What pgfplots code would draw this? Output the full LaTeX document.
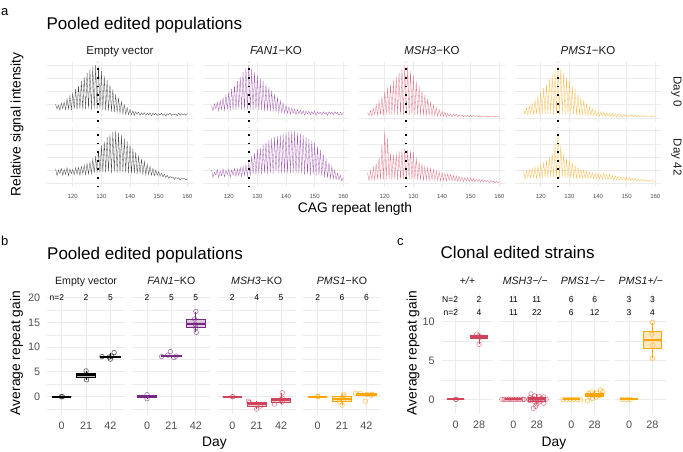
\documentclass[border=0pt]{standalone}
\usepackage{pgfplots}
\pgfplotsset{compat=1.18}
\usepgfplotslibrary{statistics}
\usepackage{fontspec}
\setmainfont{Liberation Sans}
\definecolor{gridc}{HTML}{EBEBEB}
\definecolor{tickc}{HTML}{4D4D4D}
\definecolor{stripc}{HTML}{1A1A1A}
\definecolor{evc}{HTML}{000000}
\definecolor{fanc}{HTML}{762A83}
\definecolor{mshc}{HTML}{D1435B}
\definecolor{pmsc}{HTML}{FFA500}
\definecolor{evtr}{HTML}{222222}
\definecolor{fantr}{HTML}{8E3B9E}
\definecolor{mshtr}{HTML}{D65A70}
\definecolor{pmstr}{HTML}{F9AE2A}
\newcommand{\fs}[1]{\fontsize{#1}{#1}\selectfont}
\pgfplotsset{
  base/.style={scale only axis, anchor=south west, axis line style={draw=none}, tick style={draw=none},
    major tick length=0pt, minor tick length=0pt, grid=both,
    major grid style={draw=gridc, line width=0.9pt}, minor grid style={draw=gridc, line width=0.5pt},
    clip=false, /pgf/number format/assume math mode=true,
    ticklabel style={font=\fs{10.8pt}, text=tickc}},
  pa/.style={base, width=146pt, height=60.2pt, xmin=111, xmax=162, ymin=-0.07, ymax=1.07,
    xtick={120,130,140,150,160}, ytick={0,0.25,0.5,0.75,1}, yticklabels={}, xticklabels={}},
  pabot/.style={pa, xticklabels={120,130,140,150,160}, xticklabel style={font=\fs{6pt}, yshift=-2.9pt}},
  pb/.style={base, width=78pt, height=121.8pt, xmin=-0.6, xmax=2.6, ymin=-3.5, ymax=21.1,
    xtick={0,1,2}, xticklabels={0,21,42}, ytick={0,5,10,15,20}, minor ytick={-2.5,2.5,7.5,12.5,17.5},
    yticklabels={}, xticklabel style={yshift=-4.2pt}, yticklabel style={xshift=-3.5pt}},
  pc/.style={base, width=51.3pt, height=120.3pt, xmin=-0.6, xmax=1.6, ymin=-1.8, ymax=13.7,
    xtick={0,1}, xticklabels={0,28}, ytick={0,5,10}, minor ytick={2.5,7.5},
    yticklabels={}, xticklabel style={yshift=-4.2pt}, yticklabel style={xshift=-3.5pt}},
  tr/.style={line width=0.3pt, draw opacity=0.85},
  dl/.style={black, line width=1.8pt, dash pattern=on 1.8pt off 6.8pt},
  bx/.style={line width=0.8pt, fill opacity=0.25, boxplot/draw direction=y, boxplot/whisker extend=0, boxplot/box extend=0.8,
    boxplot/every median/.style={line width=1.8pt}},
  bxc/.style={bx, boxplot/box extend=0.75},
  pt/.style={only marks, mark=o, mark size=2.3pt, mark options={line width=0.6pt, draw opacity=0.65}},
}
\begin{document}
\begin{tikzpicture}
\useasboundingbox (0pt,0pt) rectangle (683pt,-451pt);
% ---------------- panel a ----------------
\begin{axis}[pa, at={(47pt,-121.7pt)}]
\addplot[tr, evtr] coordinates {(114,.26)(114.5,.17)(115,.24)(115.5,.15)(116,.28)(116.5,.18)(117,.30)(117.5,.16)(118,.36)(118.5,.17)(119,.42)(119.5,.15)(120,.48)(120.5,.17)(121,.55)(121.5,.16)(122,.62)(122.5,.18)(123,.70)(123.5,.16)(124,.78)(124.5,.17)(125,.86)(125.5,.18)(126,.92)(126.5,.16)(127,.97)(127.5,.18)(128,1)(128.5,.17)(129,.98)(129.5,.16)(130,.89)(130.5,.15)(131,.80)(131.5,.14)(132,.72)(132.5,.13)(133,.63)(133.5,.12)(134,.54)(134.5,.11)(135,.45)(135.5,.10)(136,.38)(136.5,.09)(137,.31)(137.5,.08)(138,.25)(138.5,.07)(139,.20)(139.5,.06)(140,.16)(140.5,.06)(141,.14)(141.5,.05)(142,.12)(142.5,.07)(143,.11)(143.5,.05)(144,.10)(144.5,.06)(145,.10)(145.5,.05)(146,.09)(146.5,.06)(147,.10)(147.5,.04)(148,.09)(148.5,.06)(149,.09)(149.5,.05)(150,.08)(150.5,.06)(151,.09)(151.5,.05)(152,.08)(152.5,.04)(153,.08)(153.5,.06)(154,.09)(154.5,.05)(155,.08)(155.5,.06)(156,.08)(156.5,.04)(157,.09)(157.5,.05)(158,.08)(158.5,.06)(159,.08)(159.5,.05)(160,.09)};
\addplot[dl] coordinates {(128.7,-0.07)(128.7,1.07)};
\end{axis}
\begin{axis}[pa, at={(203pt,-121.7pt)}]
\addplot[tr, fantr] coordinates {(114,.24)(114.5,.14)(115,.27)(115.5,.17)(116,.30)(116.5,.13)(117,.33)(117.5,.16)(118,.38)(118.5,.15)(119,.43)(119.5,.17)(120,.49)(120.5,.14)(121,.55)(121.5,.16)(122,.62)(122.5,.15)(123,.70)(123.5,.17)(124,.78)(124.5,.16)(125,.87)(125.5,.15)(126,.95)(126.5,.17)(127,1)(127.5,.16)(128,.93)(128.5,.15)(129,.87)(129.5,.16)(130,.80)(130.5,.14)(131,.75)(131.5,.15)(132,.70)(132.5,.13)(133,.64)(133.5,.14)(134,.58)(134.5,.12)(135,.52)(135.5,.12)(136,.45)(136.5,.11)(137,.39)(137.5,.10)(138,.33)(138.5,.10)(139,.28)(139.5,.09)(140,.24)(140.5,.09)(141,.21)(141.5,.07)(142,.19)(142.5,.09)(143,.17)(143.5,.06)(144,.16)(144.5,.08)(145,.15)(145.5,.07)(146,.14)(146.5,.05)(147,.13)(147.5,.08)(148,.13)(148.5,.06)(149,.12)(149.5,.07)(150,.13)(150.5,.05)(151,.12)(151.5,.08)(152,.11)(152.5,.06)(153,.12)(153.5,.07)(154,.11)(154.5,.05)(155,.12)(155.5,.07)(156,.11)(156.5,.06)(157,.12)(157.5,.08)(158,.11)(158.5,.05)(159,.11)(159.5,.06)(160,.11)};
\addplot[dl] coordinates {(127,-0.07)(127,1.07)};
\end{axis}
\begin{axis}[pa, at={(359pt,-121.7pt)}]
\addplot[tr, mshtr] coordinates {(114,.10)(114.5,.05)(115,.14)(115.5,.04)(116,.19)(116.5,.06)(117,.25)(117.5,.05)(118,.32)(118.5,.06)(119,.40)(119.5,.05)(120,.50)(120.5,.06)(121,.57)(121.5,.05)(122,.64)(122.5,.06)(123,.71)(123.5,.05)(124,.78)(124.5,.06)(125,.86)(125.5,.06)(126,.94)(126.5,.05)(127,1)(127.5,.06)(128,.98)(128.5,.05)(129,.89)(129.5,.06)(130,.80)(130.5,.05)(131,.70)(131.5,.06)(132,.61)(132.5,.05)(133,.52)(133.5,.05)(134,.44)(134.5,.04)(135,.37)(135.5,.05)(136,.30)(136.5,.04)(137,.25)(137.5,.04)(138,.20)(138.5,.03)(139,.16)(139.5,.04)(140,.13)(140.5,.03)(141,.11)(141.5,.02)(142,.09)(142.5,.03)(143,.08)(143.5,.02)(144,.07)(144.5,.03)(145,.07)(145.5,.02)(146,.06)(146.5,.03)(147,.06)(147.5,.02)(148,.05)(148.5,.03)(149,.05)(149.5,.02)(150,.05)(150.5,.02)(151,.05)(151.5,.03)(152,.04)(152.5,.02)(153,.04)(153.5,.02)(154,.04)(154.5,.03)(155,.04)(155.5,.02)(156,.04)(156.5,.02)(157,.04)(157.5,.03)(158,.03)(158.5,.02)(159,.04)(159.5,.02)(160,.03)};
\addplot[dl] coordinates {(127.5,-0.07)(127.5,1.07)};
\end{axis}
\begin{axis}[pa, at={(515pt,-121.7pt)}]
\addplot[tr, pmstr] coordinates {(114,.16)(114.5,.07)(115,.19)(115.5,.06)(116,.23)(116.5,.08)(117,.28)(117.5,.07)(118,.34)(118.5,.08)(119,.41)(119.5,.07)(120,.49)(120.5,.08)(121,.57)(121.5,.07)(122,.65)(122.5,.08)(123,.73)(123.5,.08)(124,.82)(124.5,.07)(125,.91)(125.5,.08)(126,1)(126.5,.07)(127,.93)(127.5,.08)(128,.85)(128.5,.07)(129,.77)(129.5,.07)(130,.70)(130.5,.06)(131,.62)(131.5,.07)(132,.54)(132.5,.06)(133,.46)(133.5,.06)(134,.39)(134.5,.05)(135,.33)(135.5,.05)(136,.27)(136.5,.04)(137,.22)(137.5,.05)(138,.18)(138.5,.04)(139,.15)(139.5,.04)(140,.13)(140.5,.03)(141,.12)(141.5,.04)(142,.11)(142.5,.03)(143,.10)(143.5,.04)(144,.09)(144.5,.03)(145,.09)(145.5,.03)(146,.08)(146.5,.02)(147,.08)(147.5,.03)(148,.07)(148.5,.02)(149,.07)(149.5,.03)(150,.06)(150.5,.02)(151,.06)(151.5,.03)(152,.06)(152.5,.02)(153,.05)(153.5,.02)(154,.05)(154.5,.03)(155,.05)(155.5,.02)(156,.05)(156.5,.02)(157,.04)(157.5,.03)(158,.04)(158.5,.02)(159,.04)(159.5,.02)(160,.04)};
\addplot[dl] coordinates {(126,-0.07)(126,1.07)};
\end{axis}
% bottom row
\begin{axis}[pabot, at={(47pt,-187.4pt)}]
\addplot[tr, evtr] coordinates {(114,.28)(114.5,.15)(115,.26)(115.5,.19)(116,.29)(116.5,.16)(117,.27)(117.5,.18)(118,.30)(118.5,.15)(119,.28)(119.5,.19)(120,.27)(120.5,.17)(121,.30)(121.5,.18)(122,.31)(122.5,.16)(123,.33)(123.5,.19)(124,.35)(124.5,.17)(125,.38)(125.5,.18)(126,.41)(126.5,.19)(127,.46)(127.5,.20)(128,.52)(128.5,.21)(129,.62)(129.5,.20)(130,.72)(130.5,.22)(131,.80)(131.5,.21)(132,.88)(132.5,.22)(133,.94)(133.5,.20)(134,.98)(134.5,.22)(135,1)(135.5,.21)(136,.97)(136.5,.20)(137,.92)(137.5,.22)(138,.86)(138.5,.21)(139,.80)(139.5,.20)(140,.74)(140.5,.19)(141,.67)(141.5,.20)(142,.60)(142.5,.18)(143,.53)(143.5,.19)(144,.47)(144.5,.18)(145,.42)(145.5,.17)(146,.37)(146.5,.17)(147,.33)(147.5,.16)(148,.29)(148.5,.15)(149,.26)(149.5,.16)(150,.23)(150.5,.14)(151,.20)(151.5,.13)(152,.18)(152.5,.12)(153,.16)(153.5,.10)(154,.14)(154.5,.11)(155,.13)(155.5,.08)(156,.12)(156.5,.10)(157,.11)(157.5,.07)(158,.10)(158.5,.09)(159,.10)(159.5,.07)(160,.09)};
\addplot[dl] coordinates {(128.7,-0.07)(128.7,1.07)};
\end{axis}
\begin{axis}[pabot, at={(203pt,-187.4pt)}]
\addplot[tr, fantr] coordinates {(114,.26)(114.5,.12)(115,.22)(115.5,.16)(116,.27)(116.5,.11)(117,.24)(117.5,.15)(118,.28)(118.5,.13)(119,.25)(119.5,.17)(120,.27)(120.5,.12)(121,.26)(121.5,.16)(122,.29)(122.5,.14)(123,.28)(123.5,.15)(124,.31)(124.5,.13)(125,.33)(125.5,.16)(126,.36)(126.5,.14)(127,.39)(127.5,.15)(128,.52)(128.5,.18)(129,.58)(129.5,.17)(130,.65)(130.5,.19)(131,.69)(131.5,.18)(132,.74)(132.5,.20)(133,.79)(133.5,.19)(134,.83)(134.5,.20)(135,.86)(135.5,.19)(136,.88)(136.5,.21)(137,.90)(137.5,.20)(138,.92)(138.5,.19)(139,.95)(139.5,.21)(140,.97)(140.5,.20)(141,.99)(141.5,.19)(142,1)(142.5,.20)(143,.99)(143.5,.18)(144,.97)(144.5,.19)(145,.95)(145.5,.18)(146,.92)(146.5,.17)(147,.89)(147.5,.18)(148,.85)(148.5,.16)(149,.81)(149.5,.17)(150,.77)(150.5,.15)(151,.71)(151.5,.16)(152,.64)(152.5,.14)(153,.56)(153.5,.12)(154,.48)(154.5,.11)(155,.40)(155.5,.10)(156,.33)(156.5,.09)(157,.26)(157.5,.08)(158,.20)(158.5,.07)(159,.16)(159.5,.05)(160,.12)};
\addplot[dl] coordinates {(127,-0.07)(127,1.07)};
\end{axis}
\begin{axis}[pabot, at={(359pt,-187.4pt)}]
\addplot[tr, mshtr] coordinates {(114,.20)(114.5,.06)(115,.25)(115.5,.07)(116,.31)(116.5,.06)(117,.38)(117.5,.08)(118,.50)(118.5,.07)(119,.74)(119.5,.08)(120,1)(120.5,.07)(121,.86)(121.5,.08)(122,.58)(122.5,.07)(123,.55)(123.5,.08)(124,.58)(124.5,.07)(125,.61)(125.5,.08)(126,.64)(126.5,.08)(127,.66)(127.5,.07)(128,.64)(128.5,.08)(129,.63)(129.5,.07)(130,.60)(130.5,.08)(131,.50)(131.5,.07)(132,.41)(132.5,.07)(133,.38)(133.5,.06)(134,.34)(134.5,.07)(135,.31)(135.5,.06)(136,.29)(136.5,.07)(137,.27)(137.5,.06)(138,.25)(138.5,.06)(139,.23)(139.5,.05)(140,.21)(140.5,.06)(141,.20)(141.5,.05)(142,.19)(142.5,.06)(143,.18)(143.5,.05)(144,.16)(144.5,.05)(145,.15)(145.5,.04)(146,.14)(146.5,.05)(147,.13)(147.5,.04)(148,.12)(148.5,.05)(149,.12)(149.5,.04)(150,.11)(150.5,.04)(151,.10)(151.5,.03)(152,.09)(152.5,.04)(153,.08)(153.5,.03)(154,.08)(154.5,.03)(155,.07)(155.5,.03)(156,.06)(156.5,.02)(157,.06)(157.5,.03)(158,.05)(158.5,.02)(159,.05)(159.5,.02)(160,.04)};
\addplot[dl] coordinates {(127.5,-0.07)(127.5,1.07)};
\end{axis}
\begin{axis}[pabot, at={(515pt,-187.4pt)}]
\addplot[tr, pmstr] coordinates {(114,.24)(114.5,.09)(115,.25)(115.5,.11)(116,.27)(116.5,.10)(117,.29)(117.5,.12)(118,.31)(118.5,.10)(119,.33)(119.5,.12)(120,.36)(120.5,.11)(121,.40)(121.5,.12)(122,.44)(122.5,.11)(123,.50)(123.5,.12)(124,.58)(124.5,.13)(125,.75)(125.5,.12)(126,1)(126.5,.11)(127,.72)(127.5,.12)(128,.55)(128.5,.10)(129,.48)(129.5,.11)(130,.43)(130.5,.10)(131,.40)(131.5,.11)(132,.35)(132.5,.10)(133,.31)(133.5,.11)(134,.28)(134.5,.10)(135,.26)(135.5,.10)(136,.24)(136.5,.09)(137,.22)(137.5,.10)(138,.21)(138.5,.09)(139,.20)(139.5,.10)(140,.19)(140.5,.09)(141,.18)(141.5,.08)(142,.20)(142.5,.09)(143,.17)(143.5,.08)(144,.18)(144.5,.08)(145,.16)(145.5,.07)(146,.15)(146.5,.08)(147,.14)(147.5,.07)(148,.13)(148.5,.07)(149,.12)(149.5,.06)(150,.12)(150.5,.07)(151,.11)(151.5,.06)(152,.10)(152.5,.06)(153,.10)(153.5,.05)(154,.09)(154.5,.06)(155,.08)(155.5,.05)(156,.08)(156.5,.05)(157,.07)(157.5,.04)(158,.07)(158.5,.05)(159,.06)(159.5,.04)(160,.05)};
\addplot[dl] coordinates {(126,-0.07)(126,1.07)};
\end{axis}
% panel a texts
\node[anchor=base west, inner sep=0, font=\fs{13pt}] at (1pt,-15pt) {a};
\node[anchor=base west, inner sep=0, font=\fs{17pt}] at (46.4pt,-29.3pt) {Pooled edited populations};
\node[anchor=base, inner sep=0, font=\fs{11.5pt}, text=stripc] at (120pt,-54.7pt) {Empty vector};
\node[anchor=base, inner sep=0, font=\fs{11.5pt}, text=stripc] at (276pt,-54.7pt) {\textit{FAN1}−KO};
\node[anchor=base, inner sep=0, font=\fs{11.5pt}, text=stripc] at (432pt,-54.7pt) {\textit{MSH3}−KO};
\node[anchor=base, inner sep=0, font=\fs{11.5pt}, text=stripc] at (588pt,-54.7pt) {\textit{PMS1}−KO};
\node[rotate=-90, anchor=base, inner sep=0, font=\fs{11.5pt}, text=stripc] at (673.5pt,-91.7pt) {Day 0};
\node[rotate=-90, anchor=base, inner sep=0, font=\fs{11.5pt}, text=stripc] at (673.5pt,-157.2pt) {Day 42};
\node[anchor=base, inner sep=0, font=\fs{13.8pt}] at (355pt,-212.7pt) {CAG repeat length};
\node[rotate=90, anchor=base, inner sep=0, font=\fs{13.8pt}] at (20.5pt,-124.5pt) {Relative signal intensity};
% ---------------- panel b ----------------
\begin{axis}[pb, at={(47.1pt,-414pt)}, yticklabels={0,5,10,15,20}]
\addplot[bx, draw=evc, fill=evc, boxplot prepared={draw position=0, lower whisker=0, lower quartile=0, median=0, upper quartile=0, upper whisker=0}] coordinates {};
\addplot[bx, draw=evc, fill=evc, boxplot prepared={draw position=1, lower whisker=3.4, lower quartile=3.85, median=4.3, upper quartile=4.75, upper whisker=5.2}] coordinates {};
\addplot[bx, draw=evc, fill=evc, boxplot prepared={draw position=2, lower whisker=7.6, lower quartile=8.0, median=8.1, upper quartile=8.2, upper whisker=8.9}] coordinates {};
\addplot[pt, evc] coordinates {(-0.02,0)(0.03,0)(1.0,5.2)(1.02,3.4)(1.65,8.1)(2.0,7.6)(2.05,8.2)(2.15,8.9)(1.95,8.0)};
\node[font=\fs{8.5pt}] at (axis cs:0,20) {\llap{n=}2};
\node[font=\fs{8.5pt}] at (axis cs:1,20) {2};
\node[font=\fs{8.5pt}] at (axis cs:2,20) {5};
\end{axis}
\begin{axis}[pb, at={(132.4pt,-414pt)}]
\addplot[bx, draw=fanc, fill=fanc, boxplot prepared={draw position=0, lower whisker=-0.4, lower quartile=-0.2, median=0, upper quartile=0.2, upper whisker=0.4}] coordinates {};
\addplot[bx, draw=fanc, fill=fanc, boxplot prepared={draw position=1, lower whisker=7.9, lower quartile=8.1, median=8.2, upper quartile=8.4, upper whisker=8.4}] coordinates {};
\addplot[bx, draw=fanc, fill=fanc, boxplot prepared={draw position=2, lower whisker=13.0, lower quartile=13.9, median=14.6, upper quartile=15.7, upper whisker=17.2}] coordinates {};
\addplot[pt, fanc] coordinates {(0,0.4)(0,-0.4)(0.6,8.1)(0.96,9.1)(0.85,8.4)(1.1,7.9)(1.2,8.2)(2.0,17.2)(1.95,15.7)(1.98,14.6)(2.0,13.9)(2.02,13.0)};
\node[font=\fs{8.5pt}] at (axis cs:0,20) {2};
\node[font=\fs{8.5pt}] at (axis cs:1,20) {5};
\node[font=\fs{8.5pt}] at (axis cs:2,20) {5};
\end{axis}
\begin{axis}[pb, at={(217.7pt,-414pt)}]
\addplot[bx, draw=mshc, fill=mshc, boxplot prepared={draw position=0, lower whisker=0, lower quartile=0, median=0, upper quartile=0, upper whisker=0}] coordinates {};
\addplot[bx, draw=mshc, fill=mshc, boxplot prepared={draw position=1, lower whisker=-2.5, lower quartile=-2.05, median=-1.55, upper quartile=-1.13, upper whisker=-0.9}] coordinates {};
\addplot[bx, draw=mshc, fill=mshc, boxplot prepared={draw position=2, lower whisker=-1.5, lower quartile=-1.1, median=-0.6, upper quartile=-0.3, upper whisker=0.8}] coordinates {};
\addplot[pt, mshc] coordinates {(0,0)(0.02,0)(0.66,-0.9)(0.7,-1.2)(1.0,-2.5)(1.15,-1.9)(2.05,0.8)(2.05,-0.3)(2.0,-0.6)(2.05,-1.1)(1.73,-1.5)};
\node[font=\fs{8.5pt}] at (axis cs:0,20) {2};
\node[font=\fs{8.5pt}] at (axis cs:1,20) {4};
\node[font=\fs{8.5pt}] at (axis cs:2,20) {5};
\end{axis}
\begin{axis}[pb, at={(303pt,-414pt)}]
\addplot[bx, draw=pmsc, fill=pmsc, boxplot prepared={draw position=0, lower whisker=0, lower quartile=0, median=0, upper quartile=0, upper whisker=0}] coordinates {};
\addplot[bx, draw=pmsc, fill=pmsc, boxplot prepared={draw position=1, lower whisker=-1.7, lower quartile=-1.0, median=-0.45, upper quartile=0.0, upper whisker=0.5}] coordinates {};
\addplot[bx, draw=pmsc, fill=pmsc, boxplot prepared={draw position=2, lower whisker=0.3, lower quartile=0.35, median=0.5, upper quartile=0.65, upper whisker=0.7}] coordinates {};
\addplot[pt, pmsc] coordinates {(0,0.1)(0.02,0)(1.07,0.5)(1.05,0.1)(0.95,-0.3)(0.9,-1.0)(1.0,-1.7)(1.05,-0.6)(1.55,0.7)(1.75,0.7)(2.03,0.45)(2.23,0.5)(1.96,-0.9)(2.2,0.3)};
\node[font=\fs{8.5pt}] at (axis cs:0,20) {2};
\node[font=\fs{8.5pt}] at (axis cs:1,20) {6};
\node[font=\fs{8.5pt}] at (axis cs:2,20) {6};
\end{axis}
\node[anchor=base west, inner sep=0, font=\fs{13pt}] at (1pt,-245pt) {b};
\node[anchor=base west, inner sep=0, font=\fs{17pt}] at (47pt,-259.3pt) {Pooled edited populations};
\node[anchor=base, inner sep=0, font=\fs{10.6pt}, text=stripc] at (86.1pt,-284.5pt) {Empty vector};
\node[anchor=base, inner sep=0, font=\fs{10.6pt}, text=stripc] at (171.4pt,-284.5pt) {\textit{FAN1}−KO};
\node[anchor=base, inner sep=0, font=\fs{10.6pt}, text=stripc] at (256.7pt,-284.5pt) {\textit{MSH3}−KO};
\node[anchor=base, inner sep=0, font=\fs{10.6pt}, text=stripc] at (342pt,-284.5pt) {\textit{PMS1}−KO};
\node[rotate=90, anchor=base, inner sep=0, font=\fs{13.8pt}] at (20pt,-353pt) {Average repeat gain};
\node[anchor=base, inner sep=0, font=\fs{13.8pt}] at (214.4pt,-446.5pt) {Day};
% ---------------- panel c ----------------
\begin{axis}[pc, at={(441.7pt,-413.3pt)}, yticklabels={0,5,10}]
\addplot[bxc, draw=mshc, fill=mshc, boxplot prepared={draw position=0, lower whisker=0, lower quartile=0, median=0, upper quartile=0, upper whisker=0}] coordinates {};
\addplot[bxc, draw=mshc, fill=mshc, boxplot prepared={draw position=1, lower whisker=7.1, lower quartile=7.8, median=8.05, upper quartile=8.25, upper whisker=8.4}] coordinates {};
\addplot[pt, mshc] coordinates {(0,0)(0.03,0)(0.9,8.4)(1.0,8.2)(1.05,8.0)(1.0,7.1)};
\node[font=\fs{8.5pt}] at (axis cs:0,12.9) {\llap{N=}2};
\node[font=\fs{8.5pt}] at (axis cs:1,12.9) {2};
\node[font=\fs{8.5pt}] at (axis cs:0,11.2) {\llap{n=}2};
\node[font=\fs{8.5pt}] at (axis cs:1,11.2) {4};
\end{axis}
\begin{axis}[pc, at={(499.5pt,-413.3pt)}]
\addplot[bxc, draw=mshc, fill=mshc, boxplot prepared={draw position=0, lower whisker=0, lower quartile=0, median=0, upper quartile=0, upper whisker=0}] coordinates {};
\addplot[bxc, draw=mshc, fill=mshc, boxplot prepared={draw position=1, lower whisker=-0.6, lower quartile=-0.25, median=0, upper quartile=0.2, upper whisker=0.7}] coordinates {};
\addplot[pt, mshc] coordinates {(-0.5,0)(-0.4,0)(-0.3,0)(-0.2,0)(-0.1,0)(0,0)(0.1,0)(0.2,0)(0.3,0)(0.4,0)(0.45,0)
 (0.75,0.7)(0.9,0.45)(1.1,0.35)(1.3,0.3)(0.7,0.2)(1.2,0.15)(0.85,0.1)(1.0,0.05)(0.65,0)(0.8,0)(1.15,0)(1.4,0)(0.95,-0.05)(1.25,-0.1)(0.7,-0.15)(1.05,-0.2)(0.9,-0.3)(1.1,-0.35)(1.3,-0.5)(1.0,-0.6)(0.95,-0.9)(0.85,-1.15)};
\node[font=\fs{8.5pt}] at (axis cs:0,12.9) {11};
\node[font=\fs{8.5pt}] at (axis cs:1,12.9) {11};
\node[font=\fs{8.5pt}] at (axis cs:0,11.2) {11};
\node[font=\fs{8.5pt}] at (axis cs:1,11.2) {22};
\end{axis}
\begin{axis}[pc, at={(557.3pt,-413.3pt)}]
\addplot[bxc, draw=pmsc, fill=pmsc, boxplot prepared={draw position=0, lower whisker=0, lower quartile=0, median=0, upper quartile=0, upper whisker=0}] coordinates {};
\addplot[bxc, draw=pmsc, fill=pmsc, boxplot prepared={draw position=1, lower whisker=0.1, lower quartile=0.35, median=0.58, upper quartile=0.82, upper whisker=1.2}] coordinates {};
\addplot[pt, pmsc] coordinates {(-0.35,0)(-0.2,0)(-0.05,0)(0.1,0)(0.25,0)(0.4,0)
 (1.25,1.2)(1.35,1.0)(0.85,0.9)(1.1,0.8)(0.75,0.75)(1.3,0.6)(0.95,0.55)(1.2,0.5)(0.8,0.4)(1.05,0.3)(0.9,0.1)(0.7,-0.2)};
\node[font=\fs{8.5pt}] at (axis cs:0,12.9) {6};
\node[font=\fs{8.5pt}] at (axis cs:1,12.9) {6};
\node[font=\fs{8.5pt}] at (axis cs:0,11.2) {6};
\node[font=\fs{8.5pt}] at (axis cs:1,11.2) {12};
\end{axis}
\begin{axis}[pc, at={(615.1pt,-413.3pt)}]
\addplot[bxc, draw=pmsc, fill=pmsc, boxplot prepared={draw position=0, lower whisker=0, lower quartile=0, median=0, upper quartile=0, upper whisker=0}] coordinates {};
\addplot[bxc, draw=pmsc, fill=pmsc, boxplot prepared={draw position=1, lower whisker=5.3, lower quartile=6.58, median=7.65, upper quartile=8.78, upper whisker=9.9}] coordinates {};
\addplot[pt, pmsc] coordinates {(-0.3,0)(-0.1,0)(0.05,0)(1.0,9.9)(0.98,8.4)(1.02,7.0)(1.0,5.3)};
\node[font=\fs{8.5pt}] at (axis cs:0,12.9) {3};
\node[font=\fs{8.5pt}] at (axis cs:1,12.9) {3};
\node[font=\fs{8.5pt}] at (axis cs:0,11.2) {3};
\node[font=\fs{8.5pt}] at (axis cs:1,11.2) {4};
\end{axis}
\node[anchor=base west, inner sep=0, font=\fs{13pt}] at (397pt,-245pt) {c};
\node[anchor=base west, inner sep=0, font=\fs{17pt}] at (440.5pt,-258.3pt) {Clonal edited strains};
\node[anchor=base, inner sep=0, font=\fs{10.6pt}, text=stripc] at (467.4pt,-284pt) {\textit{+/+}};
\node[anchor=base, inner sep=0, font=\fs{10.6pt}, text=stripc] at (525.2pt,-284pt) {\textit{MSH3−/−}};
\node[anchor=base, inner sep=0, font=\fs{10.6pt}, text=stripc] at (583pt,-284pt) {\textit{PMS1−/−}};
\node[anchor=base, inner sep=0, font=\fs{10.6pt}, text=stripc] at (640.8pt,-284pt) {\textit{PMS1+/−}};
\node[rotate=90, anchor=base, inner sep=0, font=\fs{13.8pt}] at (416.6pt,-353pt) {Average repeat gain};
\node[anchor=base, inner sep=0, font=\fs{13.8pt}] at (554pt,-446.5pt) {Day};
\end{tikzpicture}
\end{document}
